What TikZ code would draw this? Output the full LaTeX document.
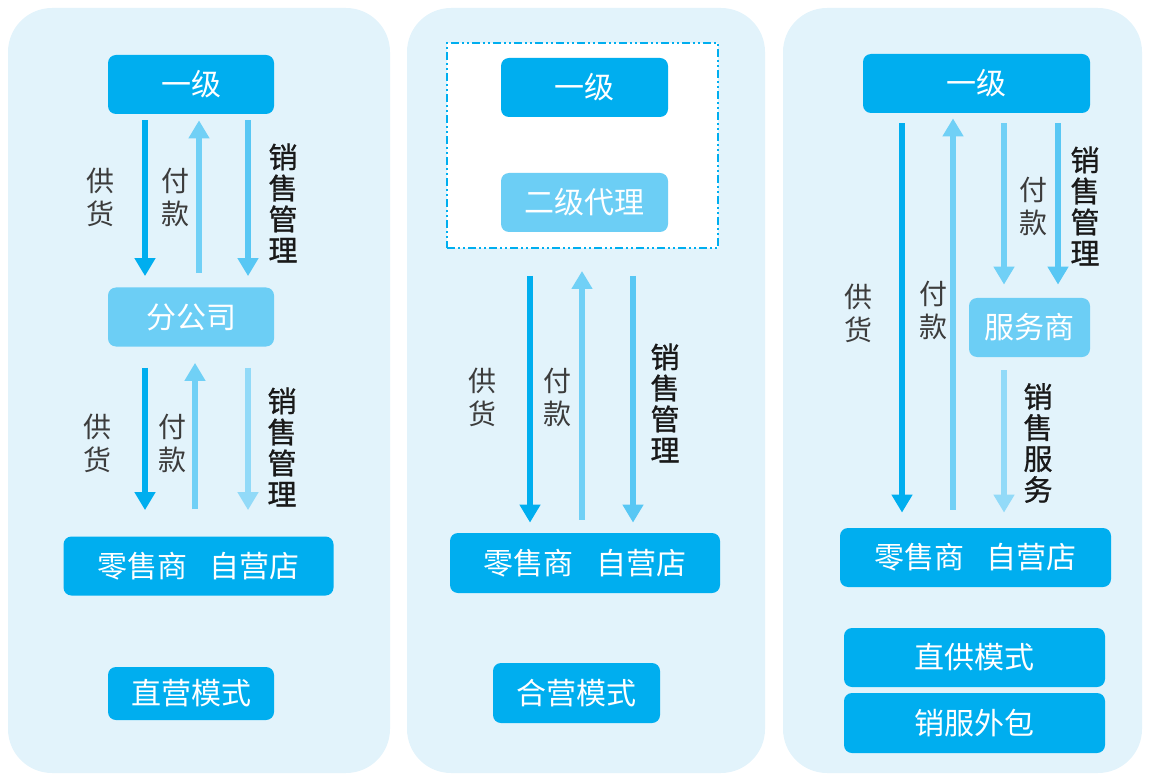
\documentclass[tikz,border=0pt]{standalone}
\usepackage{fontspec}
\usepackage{tikz}
\usetikzlibrary{arrows.meta, calc}
\newfontfamily\cjk{Noto Sans CJK SC}
\newfontfamily\cjkmid[FakeBold=0.9]{Noto Sans CJK SC}
\usepackage{xcolor}
\definecolor{mainblue}{RGB}{0,174,239}
\definecolor{boxlight}{RGB}{108,206,245}
\definecolor{arrmid}{RGB}{88,199,244}
\definecolor{arrlight}{RGB}{112,208,246}
\definecolor{arrpale}{RGB}{146,218,248}
\definecolor{panelbg}{RGB}{226,243,251}
\definecolor{labelgray}{RGB}{60,60,60}

\begin{document}
\begin{tikzpicture}[x=0.5pt, y=-0.5pt,
  panel/.style={fill=panelbg, rounded corners=22pt},
  darkbox/.style={fill=mainblue, rounded corners=4pt, text=white, inner sep=0pt,
    font=\cjk\fontsize{15}{18}\selectfont, minimum height=29.5pt},
  lightbox/.style={darkbox, fill=boxlight},
  frame/.style={draw=mainblue, fill=white, line width=1pt,
    dash pattern=on 4pt off 1.5pt on 1pt off 1.5pt on 1pt off 1.5pt},
  flow/.style={line width=3pt, -{Triangle[width=10pt,length=9pt]}},
  lbl/.style={align=center, text=labelgray, font=\cjk\fontsize{14}{16.5}\selectfont},
  blbl/.style={align=center, text=black!90, font=\cjkmid\fontsize{14.5}{15.5}\selectfont}]
  \useasboundingbox (0,0) rectangle (1149,780);

  % 三块底板
  \fill[panel] (8,8) rectangle (390,773);
  \fill[panel] (407,8) rectangle (765,773);
  \fill[panel] (783,8) rectangle (1142,773);

  % ---- 直营模式 ----
  \node[darkbox, minimum width=83pt] (p1top) at (191,84.5) {一级};
  \node[lightbox, minimum width=83pt] (p1mid) at (191,317) {分公司};
  \node[darkbox, minimum width=135pt] (p1shop) at (198.5,566) {零售商\hspace{0.75em}自营店};
  \node[darkbox, minimum width=83pt, minimum height=26.5pt] (p1mode) at (191,693.5) {直营模式};

  \draw[flow, mainblue] ($(p1top.south)+(-46,6)$) -- ($(p1mid.north)+(-46,-11)$);
  \draw[flow, arrlight] ($(p1mid.north)+(8,-14)$) -- ($(p1top.south)+(8,6)$);
  \draw[flow, arrmid] ($(p1top.south)+(57,6)$) -- ($(p1mid.north)+(57,-11)$);
  \node[lbl] (p1sup) at (100,197) {供\\货};
  \node[lbl] (p1pay) at (175,197) {付\\款};
  \node[blbl] (p1mgr) at (283,203) {销\\售\\管\\理};

  \draw[flow, mainblue] ($(p1mid.south)+(-46,21)$) -- ($(p1mid.south |- p1shop.north)+(-46,-26)$);
  \draw[flow, arrlight] ($(p1mid.south |- p1shop.north)+(4,-27)$) -- ($(p1mid.south)+(4,16)$);
  \draw[flow, arrpale] ($(p1mid.south)+(57,21)$) -- ($(p1mid.south |- p1shop.north)+(57,-26)$);
  \node[lbl] (p1sup2) at (97,443) {供\\货};
  \node[lbl] (p1pay2) at (172,443) {付\\款};
  \node[blbl] (p1mgr2) at (282,447) {销\\售\\管\\理};

  % ---- 合营模式 ----
  \node[frame, minimum width=135.5pt, minimum height=102.5pt] (p2frame) at (582.5,145.5) {};
  \node[darkbox, minimum width=83.5pt] (p2top) at (584.5,87.5) {一级};
  \node[lightbox, minimum width=83.5pt] (p2sub) at (584.5,202.5) {二级代理};
  \node[darkbox, minimum width=135pt, minimum height=30pt] (p2shop) at (585,563) {零售商\hspace{0.75em}自营店};
  \node[darkbox, minimum width=83.5pt, minimum height=30pt] (p2mode) at (576.5,693) {合营模式};

  \draw[flow, mainblue] ($(p2frame.south)+(-52.5,27)$) -- ($(p2frame.south |- p2shop.north)+(-52.5,-10)$);
  \draw[flow, arrlight] ($(p2frame.south |- p2shop.north)+(-0.5,-13)$) -- ($(p2frame.south)+(-0.5,22)$);
  \draw[flow, arrmid] ($(p2frame.south)+(50.5,27)$) -- ($(p2frame.south |- p2shop.north)+(50.5,-10)$);
  \node[lbl] (p2sup) at (482,397) {供\\货};
  \node[lbl] (p2pay) at (557,397) {付\\款};
  \node[blbl] (p2mgr) at (665,403) {销\\售\\管\\理};

  % ---- 直供模式 / 销服外包 ----
  \node[darkbox, minimum width=113.5pt] (p3top) at (976.5,83.5) {一级};
  \node[lightbox, minimum width=60.5pt] (p3svc) at (1029.5,327.5) {服务商};
  \node[darkbox, minimum width=135.5pt] (p3shop) at (975.5,557.5) {零售商\hspace{0.75em}自营店};
  \node[darkbox, minimum width=130.5pt] (p3mode) at (974.5,657.5) {直供模式};
  \node[darkbox, minimum width=130.5pt, minimum height=30pt] (p3out) at (974.5,723) {销服外包};

  \draw[flow, mainblue] ($(p3top.south)+(-74.5,10)$) -- ($(p3top.south |- p3shop.north)+(-74.5,-15)$);
  \draw[flow, arrlight] ($(p3top.south |- p3shop.north)+(-23.5,-18)$) -- ($(p3top.south)+(-23.5,5)$);
  \draw[flow, arrlight] ($(p3top.south)+(27.5,10)$) -- ($(p3top.south |- p3svc.north)+(27.5,-13)$);
  \draw[flow, arrmid] ($(p3top.south)+(81.5,10)$) -- ($(p3top.south |- p3svc.north)+(81.5,-13)$);
  \draw[flow, arrpale] ($(p3top.south |- p3svc.south)+(27.5,13)$) -- ($(p3top.south |- p3shop.north)+(27.5,-15)$);
  \node[lbl] (p3sup) at (858,313) {供\\货};
  \node[lbl] (p3pay) at (933,310) {付\\款};
  \node[lbl] (p3pay2) at (1033,206) {付\\款};
  \node[blbl] (p3mgr) at (1085,206) {销\\售\\管\\理};
  \node[blbl] (p3srv) at (1038,443) {销\\售\\服\\务};
\end{tikzpicture}
\end{document}
